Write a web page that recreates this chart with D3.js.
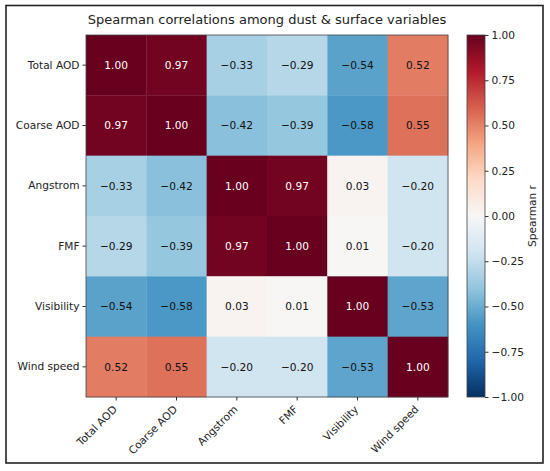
<!DOCTYPE html>
<html>
<head>
<meta charset="utf-8">
<script src="https://cdn.jsdelivr.net/npm/d3@7"></script>
<style>
  body { margin: 0; background: #fff; }
  svg text { font-family: "DejaVu Sans", sans-serif; fill: #222; }
</style>
</head>
<body>
<div id="plot"></div>
<script>
// Variables shown on both axes
var variables = ["Total AOD", "Coarse AOD", "Angstrom", "FMF", "Visibility", "Wind speed"];

// Correlation matrix, one row per variable
var rowTotalAOD  = [1.00, 0.97, -0.33, -0.29, -0.54, 0.52];
var rowCoarseAOD = [0.97, 1.00, -0.42, -0.39, -0.58, 0.55];
var rowAngstrom  = [-0.33, -0.42, 1.00, 0.97, 0.03, -0.20];
var rowFMF       = [-0.29, -0.39, 0.97, 1.00, 0.01, -0.20];
var rowVis       = [-0.54, -0.58, 0.03, 0.01, 1.00, -0.53];
var rowWind      = [0.52, 0.55, -0.20, -0.20, -0.53, 1.00];
var matrix = [rowTotalAOD, rowCoarseAOD, rowAngstrom, rowFMF, rowVis, rowWind];

// Colorbar ticks
var cbarTicks = [1.00, 0.75, 0.50, 0.25, 0.00, -0.25, -0.50, -0.75, -1.00];

var svgWidth = 550;
var svgHeight = 471;
var fontSize = "10.6px";

// heatmap box
var hm = { left: 86, top: 35, size: 362 };
// colorbar box
var cb = { left: 467, width: 18 };

var svg = d3.select("#plot")
  .append("svg")
  .attr("width", svgWidth)
  .attr("height", svgHeight);

// outer frame
svg.append("rect")
  .attr("x", 6)
  .attr("y", 5.5)
  .attr("width", 537)
  .attr("height", 457.5)
  .attr("fill", "none")
  .attr("stroke", "#222")
  .attr("stroke-width", 1.6);

// title
svg.append("text")
  .attr("x", 267)
  .attr("y", 24)
  .attr("text-anchor", "middle")
  .style("font-size", "13px")
  .text("Spearman correlations among dust & surface variables");

// RdBu_r built from the ColorBrewer stops, linear like matplotlib
var rdbu = ["#053061", "#2166ac", "#4393c3", "#92c5de", "#d1e5f0", "#f7f7f7",
            "#fddbc7", "#f4a582", "#d6604d", "#b2182b", "#67001f"];
var color = d3.scaleLinear()
  .domain(d3.range(11).map(i => -1 + i * 0.2))
  .range(rdbu)
  .interpolate(d3.interpolateRgb)
  .clamp(true);

var xScale = d3.scaleBand()
  .domain(variables)
  .range([hm.left, hm.left + hm.size]);
var yScale = d3.scaleBand()
  .domain(variables)
  .range([hm.top, hm.top + hm.size]);

var fmt = d3.format(".2f");

var cells = [];
matrix.forEach(function(row, i) {
  row.forEach(function(v, j) {
    cells.push({ row: variables[i], col: variables[j], value: v });
  });
});

var chartGroup = svg.append("g");

chartGroup.selectAll("rect.cell")
  .data(cells)
  .enter()
  .append("rect")
  .attr("class", "cell")
  .attr("x", d => xScale(d.col))
  .attr("y", d => yScale(d.row))
  .attr("width", xScale.bandwidth() + 0.3)
  .attr("height", yScale.bandwidth() + 0.3)
  .attr("fill", d => color(d.value));

chartGroup.selectAll("text.cell")
  .data(cells)
  .enter()
  .append("text")
  .attr("class", "cell")
  .attr("x", d => xScale(d.col) + xScale.bandwidth() / 2)
  .attr("y", d => yScale(d.row) + yScale.bandwidth() / 2)
  .attr("dy", "0.35em")
  .attr("text-anchor", "middle")
  .style("font-size", fontSize)
  .style("fill", d => Math.abs(d.value) > 0.7 ? "#fff" : "#111")
  .text(d => fmt(d.value));

// frame of the heatmap
chartGroup.append("rect")
  .attr("x", hm.left)
  .attr("y", hm.top)
  .attr("width", hm.size)
  .attr("height", hm.size)
  .attr("fill", "none")
  .attr("stroke", "#444")
  .attr("stroke-width", 0.8);

// axes
var leftAxis = d3.axisLeft(yScale).tickSize(3.5).tickPadding(3);
var bottomAxis = d3.axisBottom(xScale).tickSize(3.5).tickPadding(3);

var gy = svg.append("g")
  .attr("transform", `translate(${hm.left}, 0)`)
  .call(leftAxis);
gy.select(".domain").remove();
gy.selectAll("text").style("font-size", fontSize).attr("fill", "#222");
gy.selectAll("line").attr("stroke", "#333");

var gx = svg.append("g")
  .attr("transform", `translate(0, ${hm.top + hm.size})`)
  .call(bottomAxis);
gx.select(".domain").remove();
gx.selectAll("line").attr("stroke", "#333");
// rotated 45 deg, end of label tucked under the tick like matplotlib ha="right"
gx.selectAll("text")
  .style("font-size", fontSize)
  .attr("fill", "#222")
  .attr("text-anchor", "end")
  .attr("dy", "0")
  .attr("y", 0)
  .attr("x", 0)
  .attr("transform", "translate(1.5, 13) rotate(-45)");

// colorbar
var cbScale = d3.scaleLinear()
  .domain([-1, 1])
  .range([hm.top + hm.size, hm.top]);

var defs = svg.append("defs");
var grad = defs.append("linearGradient")
  .attr("id", "cbgrad")
  .attr("x1", "0%").attr("y1", "100%")
  .attr("x2", "0%").attr("y2", "0%");
grad.selectAll("stop")
  .data(color.domain())
  .enter()
  .append("stop")
  .attr("offset", d => ((d + 1) / 2 * 100) + "%")
  .attr("stop-color", d => color(d));

svg.append("rect")
  .attr("x", cb.left)
  .attr("y", hm.top)
  .attr("width", cb.width)
  .attr("height", hm.size)
  .attr("fill", "url(#cbgrad)")
  .attr("stroke", "#444")
  .attr("stroke-width", 0.8);

var rightAxis = d3.axisRight(cbScale)
  .tickValues(cbarTicks)
  .tickFormat(fmt)
  .tickSize(3.5)
  .tickPadding(3);

var gc = svg.append("g")
  .attr("transform", `translate(${cb.left + cb.width}, 0)`)
  .call(rightAxis);
gc.select(".domain").remove();
gc.selectAll("text").style("font-size", fontSize).attr("fill", "#222");
gc.selectAll("line").attr("stroke", "#333");

svg.append("text")
  .attr("transform", `translate(532, ${hm.top + hm.size / 2}) rotate(-90)`)
  .attr("text-anchor", "middle")
  .attr("dy", "0.35em")
  .style("font-size", fontSize)
  .text("Spearman r");
</script>
</body>
</html>
